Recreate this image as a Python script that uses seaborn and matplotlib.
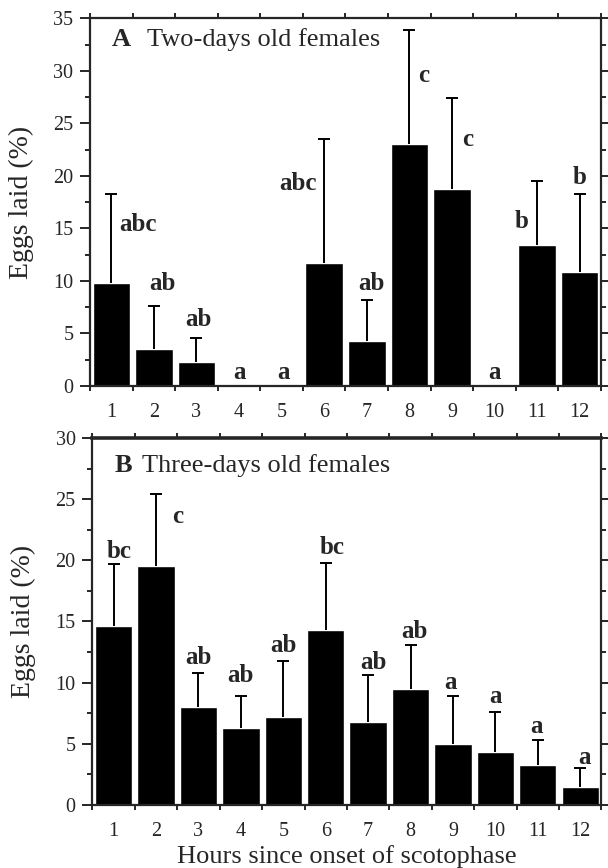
import numpy as np
import pandas as pd
import seaborn as sns
import matplotlib.pyplot as plt
from matplotlib.ticker import MultipleLocator, FixedLocator

# Data
hours = [str(h) for h in range(1, 13)]

two_day_mean = [9.8, 3.5, 2.3, 0, 0, 11.7, 4.3, 23.0, 18.8, 0, 13.4, 10.9]
two_day_se = [8.5, 4.1, 2.3, 0, 0, 11.8, 3.9, 10.9, 8.6, 0, 6.1, 7.4]
two_day_letters = ['abc', 'ab', 'ab', 'a', 'a', 'abc', 'ab', 'c', 'c', 'a', 'b', 'b']

three_day_mean = [14.6, 19.5, 8.0, 6.3, 7.2, 14.3, 6.8, 9.5, 5.0, 4.3, 3.25, 1.46]
three_day_se = [5.1, 5.9, 2.8, 2.6, 4.6, 5.5, 3.8, 3.6, 3.9, 3.3, 2.05, 1.54]
three_day_letters = ['bc', 'c', 'ab', 'ab', 'ab', 'bc', 'ab', 'ab', 'a', 'a', 'a', 'a']

# letter placement relative to the error-bar cap: (dx in bar slots, dy in points)
two_day_offsets = [(0.63, -22), (0.2, 16.5), (0.05, 13), (0.0, 10), (0.05, 10), (-0.62, -32),
                   (0.1, 12), (0.34, -33), (0.36, -30), (0.0, 10), (-0.36, -29), (0.0, 11.5)]
three_day_offsets = [(0.14, 9), (0.5, -16), (0.0, 11), (0.0, 14.5), (0.0, 11), (0.16, 11),
                     (0.12, 9), (0.09, 9.5), (-0.06, 9.5), (0.0, 11.5), (-0.04, 10), (0.1, 8)]

sns.set_style("ticks")
plt.rcParams['font.family'] = ['Liberation Serif', 'DejaVu Serif']
plt.rcParams['axes.linewidth'] = 1.6

fig = plt.figure(figsize=(6.08, 8.68), dpi=100)
ax_top = fig.add_axes([0.148, 0.5553, 0.8405, 0.4234])
ax_bot = fig.add_axes([0.152, 0.0726, 0.8372, 0.4228])


def draw_panel(ax, mean, se, letters, offsets, ymax, letter, title, title_x, title_y):
    df = pd.DataFrame({"hour": hours, "mean": mean})
    sns.barplot(data=df, x="hour", y="mean", color="black", saturation=1,
                width=0.88, ax=ax)
    x = np.arange(len(hours))
    m = np.array(mean)
    s = np.array(se)
    has = m > 0
    # upper-only error bars (hide the lower cap)
    _, caps, _ = ax.errorbar(x[has], m[has], yerr=[np.zeros(has.sum()), s[has]],
                             fmt="none", ecolor="black", elinewidth=1.4, capsize=4,
                             capthick=1.4, zorder=5)
    caps[0].set_visible(False)

    for i, lab in enumerate(letters):
        dx, dy = offsets[i]
        ax.annotate(lab, xy=(x[i] + dx, m[i] + s[i]), xytext=(0, dy),
                    textcoords="offset points", ha="center", va="center",
                    fontsize=18, fontweight="bold")

    ax.set_xlim(-0.5, 11.5)
    ax.set_ylim(0, ymax)
    ax.yaxis.set_major_locator(MultipleLocator(5))
    ax.yaxis.set_minor_locator(MultipleLocator(2.5))
    ax.xaxis.set_minor_locator(FixedLocator(np.arange(-0.5, 12, 1)))
    ax.tick_params(axis="x", which="major", length=0, pad=12, labelsize=14.5)
    ax.tick_params(axis="x", which="minor", length=3.6, width=1.4, top=True,
                   bottom=True, direction="out")
    ax.tick_params(axis="y", which="major", length=7, width=1.4, labelsize=14.5,
                   pad=5, right=True, direction="out")
    ax.tick_params(axis="y", which="minor", length=3.6, width=1.4, right=True,
                   direction="out")
    for sp in ax.spines.values():
        sp.set_visible(True)
        sp.set_linewidth(1.6)
    ax.set_ylabel("Eggs laid (%)", fontsize=20)
    ax.yaxis.set_label_coords(-0.11, 0.5)
    ax.set_xlabel("")
    ax.text(0.043, title_y, letter, transform=ax.transAxes, fontsize=19,
            fontweight="bold", va="center", ha="left")
    ax.text(title_x, title_y, title, transform=ax.transAxes,
            fontsize=19, va="center", ha="left")


draw_panel(ax_top, two_day_mean, two_day_se, two_day_letters, two_day_offsets,
           35, "A", "Two-days old females", 0.1115, 0.9415)
draw_panel(ax_bot, three_day_mean, three_day_se, three_day_letters, three_day_offsets,
           30, "B", "Three-days old females", 0.098, 0.926)
ax_bot.spines["top"].set_linewidth(2.6)
ax_bot.set_xlabel("Hours since onset of scotophase", fontsize=19, labelpad=3)

fig.savefig("out.png", dpi=100)
